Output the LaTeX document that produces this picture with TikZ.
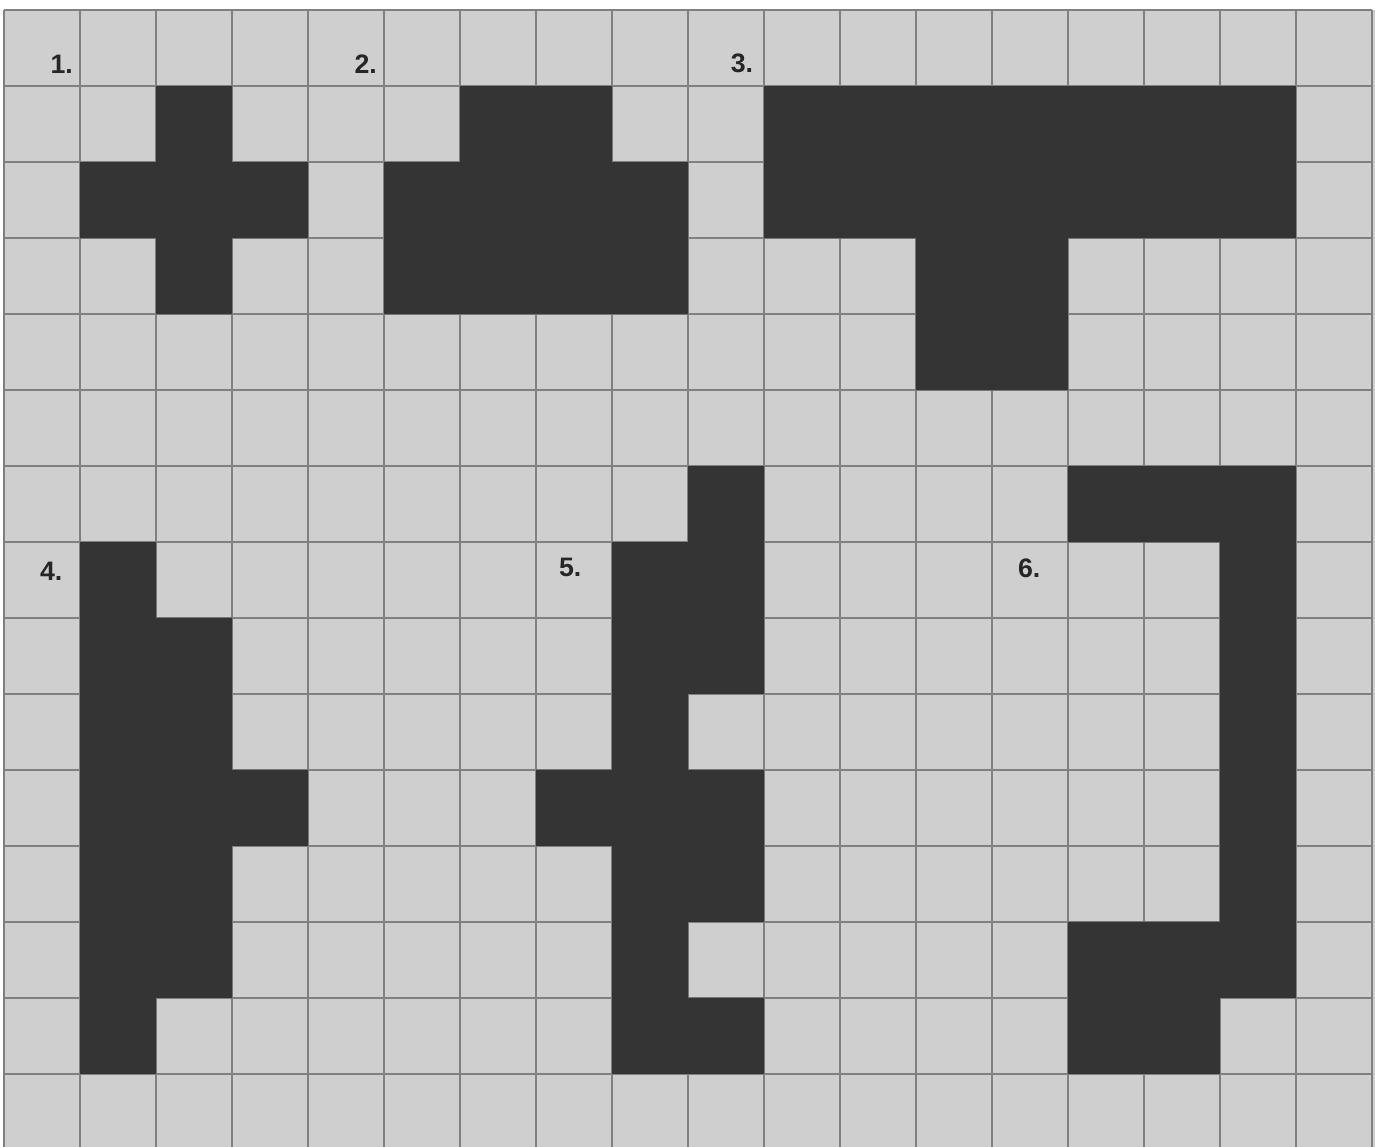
\documentclass[tikz,border=0pt]{standalone}
\usepackage{fontspec}
\setmainfont{Liberation Sans}
\begin{document}
\begin{tikzpicture}
    % Colori della griglia e delle figure
    \definecolor{cellgray}{RGB}{207,207,207}
    \definecolor{gridgray}{RGB}{128,128,128}
    \definecolor{shapeink}{RGB}{52,52,52}
    \tikzset{
        shapefill/.style={fill=shapeink, draw=none},
        numlabel/.style={font=\fontsize{10}{12}\selectfont\bfseries, text=black!85, inner sep=0pt}
    }

    % Bordo del disegno
    \useasboundingbox (-0.053,0.132) rectangle (18.04,-14.96);
    \fill[white] (-0.053,0.132) rectangle (18.04,-14.96);
    \clip (-0.053,0.132) rectangle (18.04,-14.96);

    % Sfondo e griglia
    \fill[cellgray] (0,0) rectangle (18.04,-14.96);
    \draw[gridgray, line width=0.55pt] (0,-15) grid (18,0);

    % Figura 1 (croce)
    \filldraw[shapefill] (2,-1) -- (3,-1) -- (3,-2) -- (4,-2) -- (4,-3) -- (3,-3) -- (3,-4)
        -- (2,-4) -- (2,-3) -- (1,-3) -- (1,-2) -- (2,-2) -- cycle;
    % Figura 2
    \filldraw[shapefill] (6,-1) -- (8,-1) -- (8,-2) -- (9,-2) -- (9,-4) -- (5,-4) -- (5,-2)
        -- (6,-2) -- cycle;
    % Figura 3 (T)
    \filldraw[shapefill] (10,-1) -- (17,-1) -- (17,-3) -- (14,-3) -- (14,-5) -- (12,-5)
        -- (12,-3) -- (10,-3) -- cycle;
    % Figura 4
    \filldraw[shapefill] (1,-7) -- (2,-7) -- (2,-8) -- (3,-8) -- (3,-10) -- (4,-10) -- (4,-11)
        -- (3,-11) -- (3,-13) -- (2,-13) -- (2,-14) -- (1,-14) -- cycle;
    % Figura 5
    \filldraw[shapefill] (9,-6) -- (10,-6) -- (10,-9) -- (9,-9) -- (9,-10) -- (10,-10)
        -- (10,-12) -- (9,-12) -- (9,-13) -- (10,-13) -- (10,-14) -- (8,-14) -- (8,-11)
        -- (7,-11) -- (7,-10) -- (8,-10) -- (8,-7) -- (9,-7) -- cycle;
    % Figura 6
    \filldraw[shapefill] (14,-6) -- (17,-6) -- (17,-13) -- (16,-13) -- (16,-14) -- (14,-14)
        -- (14,-12) -- (16,-12) -- (16,-7) -- (14,-7) -- cycle;

    % Numeri delle figure
    \node[numlabel] (lbl1) at (0.76,-0.71) {1.};
    \node[numlabel] (lbl2) at (4.76,-0.71) {2.};
    \node[numlabel] (lbl3) at (9.71,-0.70) {3.};
    \node[numlabel] (lbl4) at (0.62,-7.39) {4.};
    \node[numlabel] (lbl5) at (7.45,-7.34) {5.};
    \node[numlabel] (lbl6) at (13.49,-7.34) {6.};

\end{tikzpicture}
\end{document}
